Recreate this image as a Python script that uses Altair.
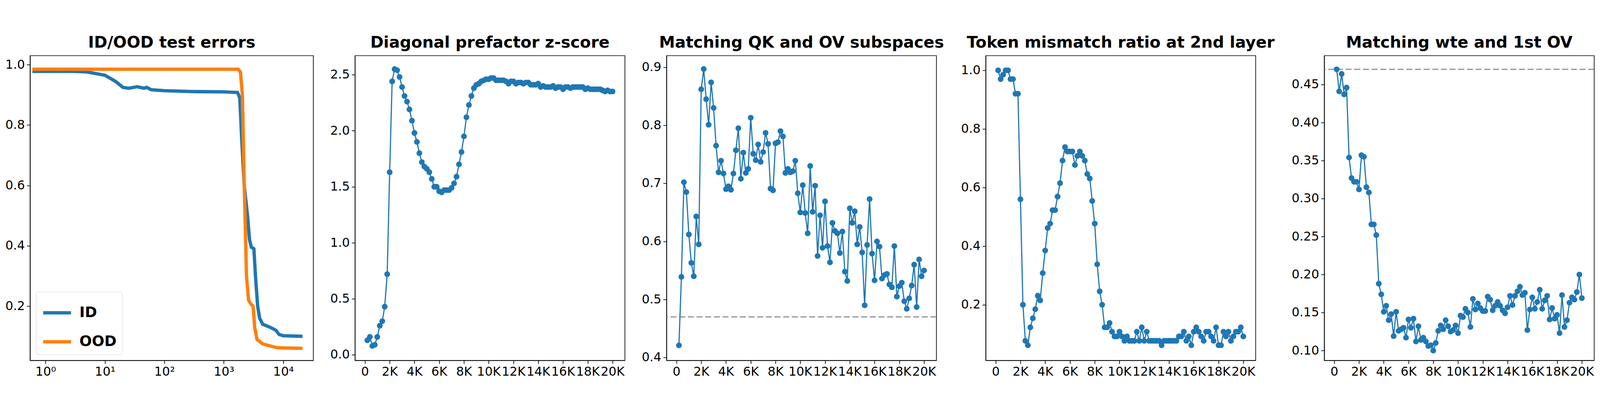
import pandas as pd
import altair as alt

# ---- panel 1: ID/OOD test errors (log x) ----
id_step = [0.6, 3, 5, 10, 15, 20, 25, 35, 45, 50, 60, 100, 300, 1000, 1700, 1850, 2000,
           2200, 2500, 2700, 2900, 3200, 3400, 3700, 4000, 4500, 6000, 7500, 8500, 10000, 21000]
id_err = [0.978, 0.978, 0.976, 0.965, 0.945, 0.925, 0.922, 0.927, 0.922, 0.925, 0.917, 0.914,
          0.911, 0.910, 0.908, 0.89, 0.75, 0.6, 0.5, 0.42, 0.395, 0.39, 0.30, 0.2, 0.16, 0.14,
          0.13, 0.12, 0.106, 0.102, 0.1]
ood_step = [0.6, 10, 100, 1000, 1750, 1900, 2050, 2200, 2300, 2400, 2600, 2900, 3100, 3300,
            3600, 4500, 6000, 8000, 21000]
ood_err = [0.985, 0.985, 0.985, 0.985, 0.985, 0.975, 0.9, 0.6, 0.45, 0.3, 0.22, 0.205, 0.2,
           0.13, 0.09, 0.075, 0.068, 0.062, 0.06]

# ---- panels 2-5: sampled every 200 steps ----
zscore = [0.13, 0.16, 0.08, 0.09, 0.16, 0.26, 0.30, 0.43, 0.72, 1.63, 2.44, 2.55, 2.54, 2.48,
          2.39, 2.31, 2.26, 2.19, 2.09, 1.98, 1.90, 1.80, 1.72, 1.68, 1.66, 1.63, 1.57, 1.50,
          1.50, 1.46, 1.45, 1.47, 1.47, 1.47, 1.49, 1.53, 1.59, 1.70, 1.81, 1.95, 2.12, 2.23,
          2.31, 2.38, 2.41, 2.42, 2.44, 2.45, 2.46, 2.46,
          2.47, 2.47, 2.45, 2.45, 2.45, 2.45, 2.44, 2.42, 2.44, 2.44, 2.42, 2.43, 2.43, 2.42,
          2.43, 2.43, 2.41, 2.41, 2.41, 2.42, 2.39, 2.40, 2.39, 2.39, 2.39, 2.40, 2.38, 2.39,
          2.39, 2.37, 2.39, 2.39, 2.38, 2.39, 2.39, 2.39, 2.39, 2.39, 2.37, 2.38, 2.37, 2.37,
          2.37, 2.37, 2.37, 2.36, 2.35, 2.36, 2.35, 2.35]
qk_ov = [0.421, 0.539, 0.702, 0.685, 0.612, 0.563, 0.540, 0.643, 0.595, 0.862, 0.897, 0.845,
         0.801, 0.874, 0.830, 0.765, 0.719, 0.739, 0.717, 0.690, 0.695, 0.689, 0.717, 0.757,
         0.795, 0.708, 0.753, 0.718, 0.725, 0.813, 0.751, 0.740, 0.767, 0.737, 0.754, 0.787,
         0.768, 0.691, 0.688, 0.769, 0.771, 0.790, 0.781, 0.718, 0.725, 0.719, 0.721, 0.739,
         0.683, 0.650, 0.697, 0.649, 0.614, 0.730, 0.651, 0.696, 0.575, 0.645, 0.589, 0.669,
         0.592, 0.564, 0.632, 0.618, 0.614, 0.580, 0.617, 0.548, 0.532, 0.657, 0.632, 0.652,
         0.595, 0.625, 0.581, 0.490, 0.594, 0.673, 0.579, 0.533, 0.600, 0.591, 0.536, 0.542,
         0.544, 0.526, 0.521, 0.592, 0.505, 0.523, 0.529, 0.497, 0.484, 0.502, 0.524, 0.560,
         0.487, 0.569, 0.540, 0.550]
mismatch = [1.00, 0.97, 0.985, 1.0, 1.0, 0.97, 0.97, 0.92, 0.92, 0.56, 0.20, 0.077, 0.062,
            0.123, 0.154, 0.185, 0.231, 0.215, 0.308, 0.385, 0.462, 0.477, 0.523, 0.523, 0.569,
            0.615, 0.692, 0.738, 0.723, 0.723, 0.723, 0.677, 0.708, 0.723, 0.708, 0.692, 0.646,
            0.631, 0.554, 0.477, 0.338, 0.246, 0.200, 0.123, 0.123, 0.138, 0.108, 0.092, 0.092,
            0.108, 0.092, 0.077, 0.092, 0.077, 0.077, 0.077, 0.108, 0.077, 0.123, 0.077, 0.108,
            0.077, 0.077, 0.077, 0.077, 0.077, 0.062, 0.077, 0.077, 0.077, 0.077, 0.077, 0.077,
            0.092, 0.092, 0.108, 0.077, 0.092, 0.062, 0.108, 0.123, 0.108, 0.092, 0.077, 0.108,
            0.108, 0.092, 0.077, 0.123, 0.062, 0.062, 0.108, 0.092, 0.108, 0.077, 0.092, 0.108,
            0.108, 0.123, 0.092]
wte_ov = [0.470, 0.441, 0.464, 0.437, 0.446, 0.354, 0.327, 0.322, 0.322, 0.312, 0.357, 0.355,
          0.315, 0.308, 0.266, 0.266, 0.252, 0.188, 0.174, 0.151, 0.159, 0.140, 0.148, 0.119,
          0.151, 0.126, 0.128, 0.130, 0.117, 0.141, 0.130, 0.142, 0.112, 0.132, 0.114, 0.117,
          0.112, 0.106, 0.107, 0.100, 0.110, 0.126, 0.133, 0.128, 0.140, 0.132, 0.125, 0.127,
          0.133, 0.123, 0.146, 0.144, 0.155, 0.150, 0.131, 0.168, 0.154, 0.162, 0.156, 0.152,
          0.152, 0.171, 0.167, 0.153, 0.159, 0.164, 0.159, 0.153, 0.149, 0.157, 0.172, 0.160,
          0.172, 0.178, 0.184, 0.173, 0.176, 0.127, 0.154, 0.170, 0.155, 0.164, 0.180, 0.155,
          0.166, 0.172, 0.141, 0.156, 0.142, 0.147, 0.123, 0.173, 0.131, 0.140, 0.163, 0.170,
          0.167, 0.177, 0.200, 0.169]
baseline = 0.47

BLUE, ORANGE = "#1f77b4", "#ff7f0e"
W, H = 810, 915
x_ticks = list(range(0, 20001, 2000))


def step_frame(values):
    return pd.DataFrame({"step": [200 * (i + 1) for i in range(len(values))], "value": values})


def dot_line(values, title, y_domain, y_ticks, y_fmt, hline=None):
    base = alt.Chart(step_frame(values), title=title).encode(
        x=alt.X("step:Q")
        .scale(domain=[-800, 21000], nice=False, zero=False)
        .axis(values=x_ticks, labelExpr="datum.value == 0 ? '0' : (datum.value / 1000) + 'K'")
        .title(None),
        y=alt.Y("value:Q")
        .scale(domain=y_domain, nice=False, zero=False)
        .axis(values=y_ticks, format=y_fmt)
        .title(None),
    )
    layers = [base.mark_line(color=BLUE, strokeWidth=3.5),
              base.mark_circle(color=BLUE, size=300, opacity=1)]
    if hline is not None:
        layers.insert(0, alt.Chart(pd.DataFrame({"y": [hline]})).mark_rule(
            color="gray", strokeWidth=3, strokeDash=[18, 8]).encode(y="y:Q"))
    return alt.layer(*layers).properties(width=W, height=H)


err = pd.concat([
    pd.DataFrame({"step": id_step, "err": id_err, "set": "ID"}),
    pd.DataFrame({"step": ood_step, "err": ood_err, "set": "OOD"}),
])
sup = "{1: '10⁰', 10: '10¹', 100: '10²', 1000: '10³', 10000: '10⁴'}[datum.value]"
p1 = alt.Chart(err, title="ID/OOD test errors").mark_line(strokeWidth=10).encode(
    x=alt.X("step:Q").scale(type="log", domain=[0.55, 32000], nice=False)
    .axis(values=[1, 10, 100, 1000, 10000], labelExpr=sup).title(None),
    y=alt.Y("err:Q").scale(domain=[0.02, 1.03], nice=False, zero=False)
    .axis(values=[0.2, 0.4, 0.6, 0.8, 1.0], format=".1f").title(None),
    color=alt.Color("set:N").scale(domain=["ID", "OOD"], range=[BLUE, ORANGE])
    .legend(title=None, orient="bottom-left", symbolType="stroke", symbolStrokeWidth=10,
            symbolSize=7000, labelFontSize=44, labelFontWeight="bold", strokeColor="#cccccc",
            padding=16, cornerRadius=6, fillColor="white", offset=18, rowPadding=18,
            labelOffset=20),
).properties(width=850, height=H)

p2 = dot_line(zscore, "Diagonal prefactor z-score", [-0.05, 2.67],
              [0.0, 0.5, 1.0, 1.5, 2.0, 2.5], ".1f")
p3 = dot_line(qk_ov, "Matching QK and OV subspaces", [0.395, 0.92],
              [0.4, 0.5, 0.6, 0.7, 0.8, 0.9], ".1f", hline=baseline)
p4 = dot_line(mismatch, "Token mismatch ratio at 2nd layer", [0.01, 1.05],
              [0.2, 0.4, 0.6, 0.8, 1.0], ".1f")
p5 = dot_line(wte_ov, "Matching wte and 1st OV", [0.087, 0.488],
              [0.10, 0.15, 0.20, 0.25, 0.30, 0.35, 0.40, 0.45], ".2f", hline=baseline)

chart = (
    alt.hconcat(p1, p2, p3, p4, p5, spacing=48)
    .configure(font="DejaVu Sans")
    .configure_view(stroke="black", strokeWidth=2)
    .configure_axis(grid=False, domainColor="black", domainWidth=2, tickColor="black",
                    tickWidth=2, tickSize=10, labelFontSize=37, labelColor="black",
                    labelPadding=6)
    .configure_title(fontSize=48, fontWeight="bold", color="black", offset=14)
    .configure_legend(labelFont="DejaVu Sans")
)
chart.save("out.html", embed_options={"renderer": "svg", "actions": False})
